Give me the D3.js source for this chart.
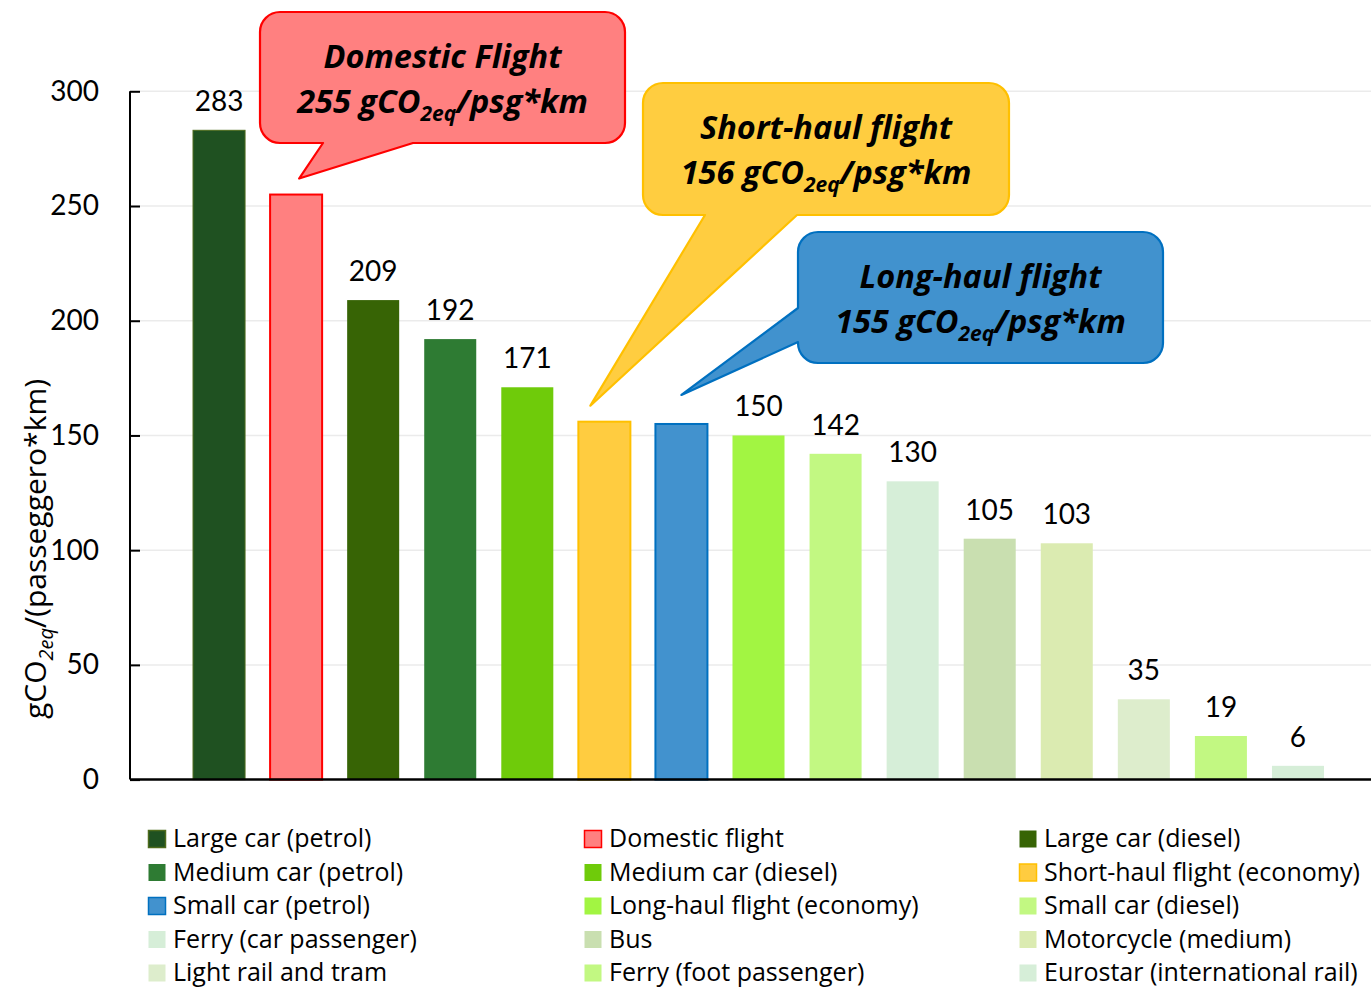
<!DOCTYPE html>
<html>
<head>
<meta charset="utf-8">
<script src="https://cdn.jsdelivr.net/npm/d3@7"></script>
<style>
  html, body { margin: 0; padding: 0; background: #fff; }
  svg { display: block; font-family: Lato, "Open Sans", sans-serif; }
</style>
</head>
<body>
<svg id="chart" width="1371" height="989"></svg>
<script>
// Emissions per passenger-km, one bar per transport mode
const categories = [
  "Large car (petrol)", "Domestic flight", "Large car (diesel)",
  "Medium car (petrol)", "Medium car (diesel)", "Short-haul flight (economy)",
  "Small car (petrol)", "Long-haul flight (economy)", "Small car (diesel)",
  "Ferry (car passenger)", "Bus", "Motorcycle (medium)",
  "Light rail and tram", "Ferry (foot passenger)", "Eurostar (international rail)"
];
const values = [283, 255, 209, 192, 171, 156, 155, 150, 142, 130, 105, 103, 35, 19, 6];
const showValueLabel = [true, false, true, true, true, false, false, true, true, true, true, true, true, true, true];
const fillColors = [
  "#1F5121", "#FF8080", "#376405", "#2E7B33", "#6FCB0A", "#FFCC40",
  "#4292CE", "#A2F542", "#C2F882", "#D6EED8", "#C9DFB0", "#DBEBB1",
  "#DDEDCC", "#C2F882", "#D6EED8"
];
const strokeColors = [
  "#4E6B1C", "#FF0000", null, null, null, "#FFC000",
  "#0070C0", null, null, null, null, null,
  null, null, null
];
const yTicks = [0, 50, 100, 150, 200, 250, 300];

// Callout bubbles for the three flight categories
const callouts = [
  { index: 1, title: "Domestic Flight" },
  { index: 5, title: "Short-haul flight" },
  { index: 6, title: "Long-haul flight" }
];

const textFont = "'Open Sans', 'Noto Sans', sans-serif";
const svg = d3.select("#chart");

const x = d3.scaleBand()
  .domain(d3.range(categories.length))
  .range([180.5, 1336.5])
  .paddingInner(0.325)
  .paddingOuter(0.1625);

const y = d3.scaleLinear().domain([0, 300]).range([779.6, 91.3]);

const axisLeftX = 130, axisRightX = 1371;

// gridlines
svg.append("g")
  .selectAll("line")
  .data(yTicks.filter(d => d > 0))
  .join("line")
  .attr("x1", axisLeftX).attr("x2", axisRightX)
  .attr("y1", d => y(d)).attr("y2", d => y(d))
  .attr("stroke", "#EBEBEB").attr("stroke-width", 1.5);

// bars
svg.append("g")
  .selectAll("rect")
  .data(values)
  .join("rect")
  .attr("x", (d, i) => x(i))
  .attr("width", x.bandwidth())
  .attr("y", d => y(d))
  .attr("height", d => y(0) - y(d))
  .attr("fill", (d, i) => fillColors[i])
  .attr("stroke", (d, i) => strokeColors[i] || "none")
  .attr("stroke-width", (d, i) => i === 1 || i === 6 || i === 5 ? 2 : 1);

// value labels
svg.append("g")
  .selectAll("text")
  .data(values.map((v, i) => ({ v, i })).filter(d => showValueLabel[d.i]))
  .join("text")
  .attr("x", d => x(d.i) + x.bandwidth() / 2)
  .attr("y", d => y(d.v) - 19)
  .attr("text-anchor", "middle")
  .attr("font-size", 28)
  .attr("fill", "#000")
  .text(d => d.v);

// y axis
const yAxis = d3.axisLeft(y).tickValues(yTicks).tickSize(-10).tickPadding(31);
const gy = svg.append("g").attr("transform", `translate(${axisLeftX},0)`).call(yAxis);
gy.select(".domain").remove();
gy.selectAll(".tick line").attr("stroke", "#000").attr("stroke-width", 2);
gy.selectAll(".tick text").attr("font-size", 28).attr("font-family", "Lato, sans-serif").attr("fill", "#000");
svg.append("line")
  .attr("x1", axisLeftX).attr("x2", axisLeftX)
  .attr("y1", y(300)).attr("y2", y(0))
  .attr("stroke", "#000").attr("stroke-width", 2);

// x axis baseline
svg.append("line")
  .attr("x1", axisLeftX).attr("x2", axisRightX)
  .attr("y1", y(0)).attr("y2", y(0))
  .attr("stroke", "#000").attr("stroke-width", 2.5);

// y axis title
const yTitle = svg.append("text")
  .attr("transform", "translate(46,549) rotate(-90)")
  .attr("text-anchor", "middle")
  .attr("font-family", textFont)
  .attr("font-size", 30)
  .attr("fill", "#000");
yTitle.append("tspan").text("gCO");
yTitle.append("tspan").attr("font-size", 20).attr("font-style", "italic").attr("dy", 7).text("2eq");
yTitle.append("tspan").attr("dy", -7).text("/(passeggero*km)");

// callout bubbles
const bubbleLayout = [
  { box: [260, 12, 365, 131], base: [[323, 143], [413, 143]], tipDx: 3, tipDy: -16,
    fill: "#FF8080", stroke: "#FF0000" },
  { box: [643, 83, 366, 132], base: [[705, 215], [797, 215]], tipDx: -14, tipDy: -16,
    fill: "#FFCD40", stroke: "#FFC000" },
  { box: [798, 232, 365, 131], base: [[798, 308], [798, 342]], tipDx: 0, tipDy: -29,
    fill: "#4192CE", stroke: "#0070C0" }
];

function bubblePath(b, tip) {
  const [bx, by, bw, bh] = b.box;
  const r = 20;
  const p = d3.path();
  const onBottom = b.base[0][1] === by + bh;
  p.moveTo(bx + r, by);
  p.lineTo(bx + bw - r, by);
  p.arcTo(bx + bw, by, bx + bw, by + r, r);
  p.lineTo(bx + bw, by + bh - r);
  p.arcTo(bx + bw, by + bh, bx + bw - r, by + bh, r);
  if (onBottom) {
    p.lineTo(b.base[1][0], b.base[1][1]);
    p.lineTo(tip[0], tip[1]);
    p.lineTo(b.base[0][0], b.base[0][1]);
  }
  p.lineTo(bx + r, by + bh);
  p.arcTo(bx, by + bh, bx, by + bh - r, r);
  if (!onBottom) {
    p.lineTo(b.base[1][0], b.base[1][1]);
    p.lineTo(tip[0], tip[1]);
    p.lineTo(b.base[0][0], b.base[0][1]);
  }
  p.lineTo(bx, by + r);
  p.arcTo(bx, by, bx + r, by, r);
  p.closePath();
  return p.toString();
}

callouts.forEach((c, k) => {
  const b = bubbleLayout[k];
  const tip = [x(c.index) + x.bandwidth() / 2 + b.tipDx, y(values[c.index]) + b.tipDy];
  const g = svg.append("g");
  g.append("path")
    .attr("d", bubblePath(b, tip))
    .attr("fill", b.fill)
    .attr("stroke", b.stroke)
    .attr("stroke-width", 2.2)
    .attr("stroke-linejoin", "round");
  const cx = b.box[0] + b.box[2] / 2;
  const cy = b.box[1];
  g.append("text")
    .attr("x", cx).attr("y", cy + 56)
    .attr("text-anchor", "middle")
    .attr("font-family", textFont)
    .attr("font-size", 32.5).attr("font-weight", "bold").attr("font-style", "italic")
    .attr("fill", "#000")
    .text(c.title);
  const t = g.append("text")
    .attr("x", cx).attr("y", cy + 101)
    .attr("text-anchor", "middle")
    .attr("font-family", textFont)
    .attr("font-size", 32.5).attr("font-weight", "bold").attr("font-style", "italic")
    .attr("fill", "#000");
  t.append("tspan").text(values[c.index] + " gCO");
  t.append("tspan").attr("font-size", 21).attr("dy", 8).text("2eq");
  t.append("tspan").attr("dy", -8).text("/psg*km");
});

// legend: three columns, filled row by row
const legendCols = [148, 584, 1019];
const legendTop = 839, legendStep = 33.5;
const legend = svg.append("g")
  .selectAll("g")
  .data(categories.map((name, i) => ({ name, i })))
  .join("g")
  .attr("transform", d => `translate(${legendCols[d.i % 3]},${legendTop + Math.floor(d.i / 3) * legendStep})`);
legend.append("rect")
  .attr("x", 0.5).attr("y", -8.5).attr("width", 17).attr("height", 17)
  .attr("fill", d => fillColors[d.i])
  .attr("stroke", d => strokeColors[d.i] || "none")
  .attr("stroke-width", d => strokeColors[d.i] ? 1.5 : 0);
legend.append("text")
  .attr("x", 25).attr("y", 0).attr("dy", "0.33em")
  .attr("font-family", textFont)
  .attr("font-size", 25)
  .attr("fill", "#000")
  .text(d => d.name);
</script>
</body>
</html>
